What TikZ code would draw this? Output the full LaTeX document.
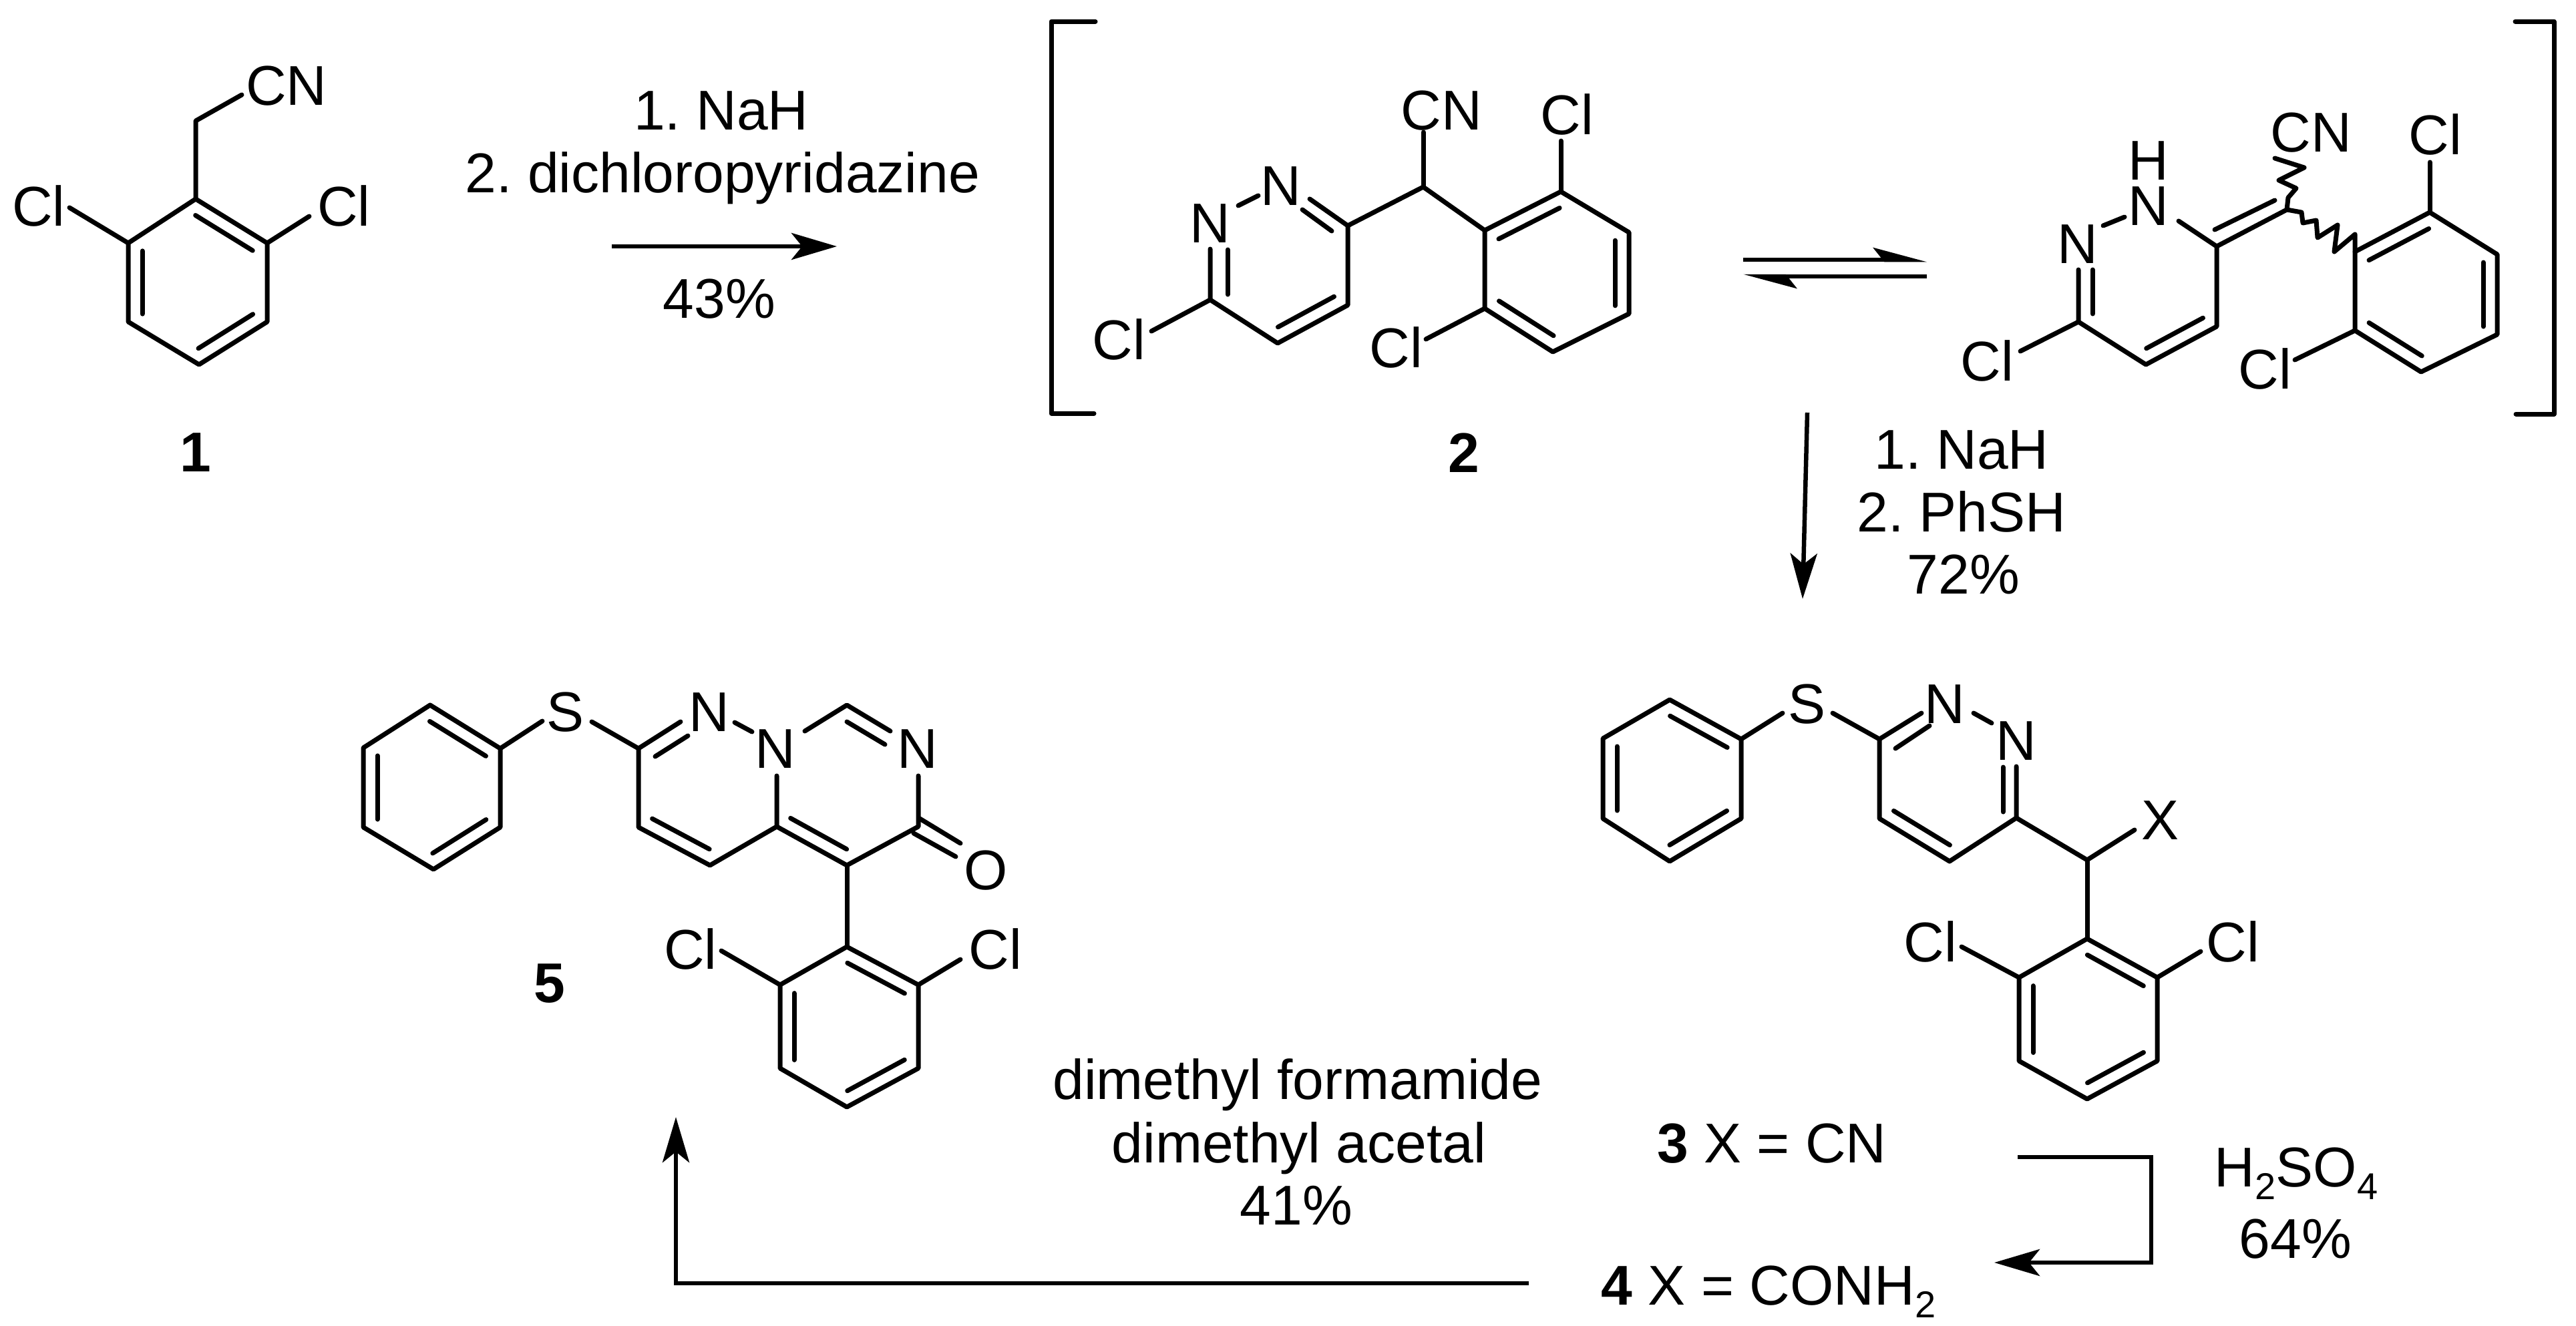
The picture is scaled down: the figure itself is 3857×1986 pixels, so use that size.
\documentclass[tikz,border=0pt]{standalone}
\usepackage{fontspec}
\setmainfont{Liberation Sans}
\usetikzlibrary{arrows.meta,calc}
\tikzset{
  bond/.style={line width=7pt,line cap=round,line join=round},
  rxn/.style={line width=6.5pt,-{Stealth[length=68pt,width=40pt,inset=16pt]}},
  barb/.style={line width=6.5pt,-{Stealth[length=68pt,width=36pt,inset=14pt,left]}},
  atom/.style={anchor=base,inner sep=0pt,font=\fontsize{84}{84}\selectfont\frenchspacing},
}
\newcommand{\innerbond}[2]{\draw[bond] ($(#1)!.1!(#2)!21pt!90:(#2)$) -- ($(#2)!.1!(#1)!21pt!-90:(#1)$);}
\newcommand{\lowsub}[1]{\raisebox{-19pt}{\fontsize{56}{56}\selectfont #1}}
\begin{document}
\begin{tikzpicture}[x=1pt,y=-1pt]
\useasboundingbox (0,0) rectangle (3857,1986);
% compound 1
\foreach \n/\x/\y in {a0/293/181,acn/362/142,aa/293/298,ab/192/364,ac/192/482,ad/298/546,ae/400/482,af/400/364,acl1/104/311,acl2/463/324}
  \coordinate (\n) at (\x,\y);
\node[atom] (cn1) at (429,157) {CN};
\node[atom] (cl1a) at (58,338) {Cl};
\node[atom] (cl1b) at (515,338) {Cl};
\node[atom] (no1) at (293,706) {\bfseries 1};
\draw[bond] (acn) -- (a0) -- (aa);
\draw[bond] (aa) -- (ab) -- (ac) -- (ad) -- (ae) -- (af) -- cycle;
\draw[bond] (acl1) -- (ab);
\draw[bond] (acl2) -- (af);
\innerbond{ab}{ac}
\innerbond{ad}{ae}
\innerbond{af}{aa}
% first arrow
\coordinate (r1a) at (916,369);
\coordinate (r1b) at (1253,369);
\draw[rxn] (r1a) -- (r1b);
\node[atom] (r1t1) at (1080,194) {1. NaH};
\node[atom] (r1t2) at (1082,288) {2. dichloropyridazine};
\node[atom] (r1t3) at (1077,476) {43\%};
% brackets
\foreach \n/\x/\y in {bl1/1640/32,bl2/1574/32,bl3/1574/619,bl4/1638/619,br1/3766/32,br2/3824/32,br3/3824/620,br4/3767/620}
  \coordinate (\n) at (\x,\y);
\draw[bond] (bl1) -- (bl2) -- (bl3) -- (bl4);
\draw[bond] (br1) -- (br2) -- (br3) -- (br4);
% compound 2
\foreach \n/\x/\y in {b1/2018/338,b2/2018/457,b3/1913/514,b4/1812/449,b5/1812/373,bn1/1854/308,bn2/1884/293,bn3/1961/298,
  bi1/1994/346,bi2/1950/314,bi3/1838/441,bi4/1838/374,bcl/1724/496,bch/2131/280,bcn/2131/198,
  bp1/2223/345,bp2/2223/462,bp3/2325/527,bp4/2439/470,bp5/2439/348,bp6/2337/287,bcl1/2337/211,bcl2/2135/508}
  \coordinate (\n) at (\x,\y);
\node[atom] (n2a) at (1918,307) {N};
\node[atom] (n2b) at (1812,363) {N};
\node[atom] (cl2a) at (1675,538) {Cl};
\node[atom] (cn2) at (2158,194) {CN};
\node[atom] (cl2b) at (2346,201) {Cl};
\node[atom] (cl2c) at (2090,550) {Cl};
\node[atom] (no2) at (2192,707) {\bfseries 2};
\draw[bond] (bn3) -- (b1) -- (b2) -- (b3) -- (b4) -- (b5);
\draw[bond] (bn1) -- (bn2);
\draw[bond] (bi1) -- (bi2);
\draw[bond] (bi3) -- (bi4);
\draw[bond] (b4) -- (bcl);
\draw[bond] (b1) -- (bch) -- (bp1);
\draw[bond] (bch) -- (bcn);
\draw[bond] (bp1) -- (bp2) -- (bp3) -- (bp4) -- (bp5) -- (bp6) -- cycle;
\draw[bond] (bp6) -- (bcl1);
\draw[bond] (bp2) -- (bcl2);
\innerbond{b3}{b2}
\innerbond{bp2}{bp3}
\innerbond{bp4}{bp5}
\innerbond{bp6}{bp1}
% equilibrium arrows
\foreach \n/\x/\y in {e1/2610/389,e2/2885/389,e3/2885/414,e4/2610/414}
  \coordinate (\n) at (\x,\y);
\draw[barb] (e1) -- (e2);
\draw[barb] (e3) -- (e4);
% tautomer of compound 2
\foreach \n/\x/\y in {c1/3319/369,c2/3319/489,c3/3213/546,c4/3112/482,c5/3112/404,ci1/3133/404,ci2/3133/470,cn1a/3149/338,cn1b/3181/325,cn2a/3262/331,
  ccl/3025/526,cx/3424/314,cd1/3316/344,cd2/3406/300,
  w1/3426/296,w2/3438/282,w3/3412/270,w4/3450/251,w5/3406/237,
  v1/3446/318,v2/3448/334,v3/3468/330,v4/3470/356,v5/3500/337,v6/3495/377,v7/3526/351,
  cp1/3526/377,cp2/3526/495,cp3/3625/557,cp4/3739/501,cp5/3739/381,cp6/3638/318,ccl1/3638/243,ccl2/3436/539}
  \coordinate (\n) at (\x,\y);
\node[atom] (nh) at (3217,269) {H};
\node[atom] (n3a) at (3217,337) {N};
\node[atom] (n3b) at (3111,394) {N};
\node[atom] (cl3a) at (2975,570) {Cl};
\node[atom] (cn3) at (3460,227) {CN};
\node[atom] (cl3b) at (3646,231) {Cl};
\node[atom] (cl3c) at (3391,582) {Cl};
\draw[bond] (cn2a) -- (c1) -- (c2) -- (c3) -- (c4) -- (c5);
\draw[bond] (ci1) -- (ci2);
\draw[bond] (cn1a) -- (cn1b);
\draw[bond] (c4) -- (ccl);
\draw[bond] (c1) -- (cx);
\draw[bond] (cd1) -- (cd2);
\draw[bond] (cx) -- (w1) -- (w2) -- (w3) -- (w4) -- (w5);
\draw[bond] (cx) -- (v1) -- (v2) -- (v3) -- (v4) -- (v5) -- (v6) -- (v7) -- (cp1);
\draw[bond] (cp1) -- (cp2) -- (cp3) -- (cp4) -- (cp5) -- (cp6) -- cycle;
\draw[bond] (cp6) -- (ccl1);
\draw[bond] (cp2) -- (ccl2);
\innerbond{c3}{c2}
\innerbond{cp2}{cp3}
\innerbond{cp4}{cp5}
\innerbond{cp6}{cp1}
% arrow to compound 3
\coordinate (r2a) at (2706,618);
\coordinate (r2b) at (2699,897);
\draw[rxn] (r2a) -- (r2b);
\node[atom] (r2t1) at (2937,702) {1. NaH};
\node[atom] (r2t2) at (2937,796) {2. PhSH};
\node[atom] (r2t3) at (2940,889) {72\%};
% compound 3
\foreach \n/\x/\y in {d1/2500/1048,d2/2400/1106,d3/2400/1226,d4/2500/1290,d5/2607/1226,d6/2607/1107,ds1/2669/1068,ds2/2744/1068,
  d7/2814/1107,d8/2877/1068,di1/2838/1121,di2/2889/1087,dn1/2955/1068,dn2/2982/1083,d9/3019/1148,d10/3019/1225,di3/2999/1149,di4/2999/1216,
  d11/2919/1290,d12/2814/1226,dch/3125/1288,dx/3196/1243,
  dp1/3125/1406,dp2/3023/1464,dp3/3023/1589,dp4/3125/1646,dp5/3230/1589,dp6/3230/1464,dcl1/2937/1418,dcl2/3295/1425}
  \coordinate (\n) at (\x,\y);
\node[atom] (s3) at (2705,1083) {S};
\node[atom] (n4a) at (2912,1083) {N};
\node[atom] (n4b) at (3019,1138) {N};
\node[atom] (x3) at (3234,1257) {X};
\node[atom] (cl4a) at (2890,1440) {Cl};
\node[atom] (cl4b) at (3343,1440) {Cl};
\draw[bond] (d1) -- (d2) -- (d3) -- (d4) -- (d5) -- (d6) -- cycle;
\draw[bond] (d6) -- (ds1);
\draw[bond] (ds2) -- (d7) -- (d8);
\draw[bond] (di1) -- (di2);
\draw[bond] (dn1) -- (dn2);
\draw[bond] (d9) -- (d10) -- (d11) -- (d12) -- (d7);
\draw[bond] (di3) -- (di4);
\draw[bond] (d10) -- (dch) -- (dx);
\draw[bond] (dch) -- (dp1);
\draw[bond] (dp1) -- (dp2) -- (dp3) -- (dp4) -- (dp5) -- (dp6) -- cycle;
\draw[bond] (dp2) -- (dcl1);
\draw[bond] (dp6) -- (dcl2);
\innerbond{d2}{d3}
\innerbond{d4}{d5}
\innerbond{d6}{d1}
\innerbond{d12}{d11}
\innerbond{dp2}{dp3}
\innerbond{dp4}{dp5}
\innerbond{dp6}{dp1}
% compound 5
\foreach \n/\x/\y in {f1/644/1056,f2/544/1120,f3/544/1239,f4/649/1302,f5/749/1239,f6/749/1121,fs1/812/1080,fs2/886/1081,
  f7/956/1121,f8/1019/1081,fi1/981/1133,fi2/1030/1102,fn1/1100/1082,fn2/1126/1096,
  f9/956/1239,f10/1063/1296,f11/1163/1238,f12/1163/1162,f13/1268/1296,f14/1375/1238,f15/1375/1162,
  fo1/1377/1226,fo2/1438/1263,fo3/1368/1248,fo4/1431/1283,
  f16/1205/1095,f17/1268/1056,f18/1333/1095,fi3/1268/1081,fi4/1325/1115,
  fp1/1268/1418,fp2/1168/1475,fp3/1168/1600,fp4/1268/1658,fp5/1375/1600,fp6/1375/1475,fcl1/1080/1424,fcl2/1438/1437}
  \coordinate (\n) at (\x,\y);
\node[atom] (s5) at (847,1095) {S};
\node[atom] (n5a) at (1062,1095) {N};
\node[atom] (n5b) at (1161,1150) {N};
\node[atom] (n5c) at (1374,1150) {N};
\node[atom] (o5) at (1476,1332) {O};
\node[atom] (cl5a) at (1034,1451) {Cl};
\node[atom] (cl5b) at (1490,1451) {Cl};
\node[atom] (no5) at (823,1501) {\bfseries 5};
\draw[bond] (f1) -- (f2) -- (f3) -- (f4) -- (f5) -- (f6) -- cycle;
\draw[bond] (f6) -- (fs1);
\draw[bond] (fs2) -- (f7) -- (f8);
\draw[bond] (fi1) -- (fi2);
\draw[bond] (fn1) -- (fn2);
\draw[bond] (f7) -- (f9) -- (f10) -- (f11) -- (f12);
\draw[bond] (f11) -- (f13) -- (f14) -- (f15);
\draw[bond] (fo1) -- (fo2);
\draw[bond] (fo3) -- (fo4);
\draw[bond] (f16) -- (f17) -- (f18);
\draw[bond] (fi3) -- (fi4);
\draw[bond] (f13) -- (fp1);
\draw[bond] (fp1) -- (fp2) -- (fp3) -- (fp4) -- (fp5) -- (fp6) -- cycle;
\draw[bond] (fp2) -- (fcl1);
\draw[bond] (fp6) -- (fcl2);
\innerbond{f2}{f3}
\innerbond{f4}{f5}
\innerbond{f6}{f1}
\innerbond{f9}{f10}
\innerbond{f11}{f13}
\innerbond{fp2}{fp3}
\innerbond{fp4}{fp5}
\innerbond{fp6}{fp1}
% lower labels and arrows
\node[atom] (lab3) at (2653,1741) {{\bfseries 3} X = CN};
\node[atom] (lab4) at (2648,1954) {{\bfseries 4} X = CONH\lowsub{2}};
\node[atom] (r3t1) at (3438,1777) {H\lowsub{2}SO\lowsub{4}};
\node[atom] (r3t2) at (3437,1884) {64\%};
\node[atom] (r4t1) at (1943,1646) {dimethyl formamide};
\node[atom] (r4t2) at (1945,1741) {dimethyl acetal};
\node[atom] (r4t3) at (1941,1834) {41\%};
\foreach \n/\x/\y in {r3a/3021/1733,r3b/3221/1733,r3c/3221/1891,r3d/2986/1891,r4a/2289/1922,r4b/1012/1922,r4c/1012/1673}
  \coordinate (\n) at (\x,\y);
\draw[rxn] (r3a) -- (r3b) -- (r3c) -- (r3d);
\draw[rxn] (r4a) -- (r4b) -- (r4c);
\end{tikzpicture}
\end{document}
